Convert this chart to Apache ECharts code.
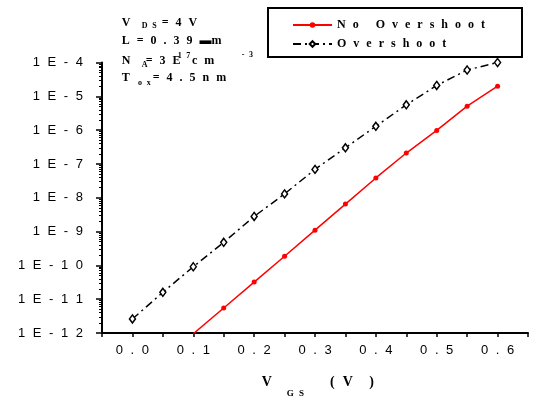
<!DOCTYPE html>
<html>
<head>
<meta charset="UTF-8"/>
<script src="https://cdn.jsdelivr.net/npm/echarts@6/dist/echarts.min.js"></script>
<style type="text/css">
	html, body { margin:0; padding:0; background:#fff; }
	#chart { width:534px; height:398px; }
</style>
</head>
<body>
<div id="chart"></div>
<script type="text/javascript">

// V_GS (V) sample points
var vgsNoOvershoot = [0.1, 0.15, 0.2, 0.25, 0.3, 0.35, 0.4, 0.45, 0.5, 0.55, 0.6];
var idNoOvershoot  = [9.5e-13, 5.5e-12, 3.2e-11, 1.86e-10, 1.1e-9, 6.5e-9, 3.85e-8, 2.1e-7, 9.8e-7, 5.1e-6, 2.0e-5];

var vgsOvershoot = [0.0, 0.05, 0.1, 0.15, 0.2, 0.25, 0.3, 0.35, 0.4, 0.45, 0.5, 0.55, 0.6];
var idOvershoot  = [2.6e-12, 1.6e-11, 9.1e-11, 4.8e-10, 2.8e-9, 1.3e-8, 6.9e-8, 3.0e-7, 1.3e-6, 5.6e-6, 2.1e-5, 6.0e-5, 1.0e-4];

var seriesNames = ['No Overshoot', 'Overshoot'];

// wide letter spacing like the original figure
var GAP = '\u2002\u200A';
function sp(s){
	return s.split('').join(GAP);
}

function pairs(xs, ys){
	var out = [];
	for(var i=0;i<xs.length;i++){
		out.push([xs[i], ys[i]]);
	}
	return out;
}

var serifB = 'bold 12px "Liberation Serif", "Times New Roman", serif';
var serifSmall = 'bold 8px "Liberation Serif", "Times New Roman", serif';
var sansFont = '"Liberation Sans", Arial, sans-serif';

function txt(x, y, s, font){
	return {
		type:'text', x:x, y:y, silent:true,
		style:{ text:s, font:font, fill:'#000', align:'left', verticalAlign:'middle' }
	};
}

var chart = echarts.init(document.getElementById('chart'));

var option = {
	animation:false,
	backgroundColor:'#fff',
	grid:{ left:102, right:6, top:62.5, bottom:65 },
	xAxis:{
		type:'value',
		min:-0.05,
		max:0.65,
		interval:0.05,
		axisLine:{ onZero:false, lineStyle:{ color:'#000', width:2 } },
		axisTick:{ length:4, lineStyle:{ color:'#000', width:1.5 } },
		splitLine:{ show:false },
		axisLabel:{
			margin:11,
			color:'#000',
			fontSize:13,
			fontFamily:sansFont,
			formatter:function(v){
				var k = Math.round(v*100);
				if(k < 0 || k % 10 !== 0) return '';
				return sp((k/100).toFixed(1));
			}
		}
	},
	yAxis:{
		type:'log',
		logBase:10,
		min:1e-12,
		max:1e-4,
		splitNumber:8,
		axisLine:{ show:true, onZero:false, lineStyle:{ color:'#000', width:2 } },
		axisTick:{ show:true, length:6, lineStyle:{ color:'#000', width:1.5 } },
		minorTick:{ show:true, splitNumber:9, length:3, lineStyle:{ color:'#000', width:1 } },
		splitLine:{ show:false },
		axisLabel:{
			margin:19,
			color:'#000',
			fontSize:13,
			fontFamily:sansFont,
			formatter:function(v){
				var e = Math.round(Math.log(v)/Math.LN10);
				return sp('1E-' + Math.abs(e));
			}
		}
	},
	legend:{
		orient:'vertical',
		left:292,
		top:19,
		padding:0,
		itemWidth:39,
		itemHeight:7,
		itemGap:7,
		data:seriesNames,
		formatter:function(name){
			return sp(name);
		},
		textStyle:{ color:'#000', fontSize:12, fontWeight:'bold', fontFamily:'"Liberation Serif", "Times New Roman", serif' }
	},
	graphic:[
		{ type:'rect', silent:true, shape:{ x:268, y:8, width:254, height:49 },
		  style:{ fill:'none', stroke:'#000', lineWidth:2 } },
		txt(121.7, 22.8, 'V', serifB),
		txt(141.7, 25.8, sp('DS'), serifSmall),
		txt(161.7, 22.8, sp('= 4 V').replace(/\s+/g, GAP), serifB),
		txt(121.7, 41.2, sp('L=0.39') + GAP + '\u25ACm', serifB),
		txt(121.7, 60.8, 'N', serifB),
		txt(141.7, 65, 'A', serifSmall),
		txt(145.7, 60.8, sp('=3E'), serifB),
		txt(177.7, 55.7, sp('17'), serifSmall),
		txt(192, 60.8, sp('cm'), serifB),
		txt(241.7, 54.5, sp('-3'), serifSmall),
		txt(121.7, 77.8, 'T', serifB),
		txt(138, 83, sp('ox'), serifSmall),
		txt(152.7, 77.8, sp('=4.5nm'), serifB),
		txt(261.7, 382.8, 'V', 'bold 14px "Liberation Serif", "Times New Roman", serif'),
		txt(286.7, 393.7, sp('GS'), 'bold 9px "Liberation Serif", "Times New Roman", serif'),
		txt(330, 382.8, '(' + GAP + 'V' + GAP + GAP + ')', 'bold 14px "Liberation Serif", "Times New Roman", serif')
	],
	series:[
		{
			name:seriesNames[0],
			type:'line',
			clip:true,
			data:pairs(vgsNoOvershoot, idNoOvershoot),
			symbol:'circle',
			symbolSize:5,
			lineStyle:{ color:'#ff0000', width:1.5 },
			itemStyle:{ color:'#ff0000' }
		},
		{
			name:seriesNames[1],
			type:'line',
			clip:false,
			data:pairs(vgsOvershoot, idOvershoot),
			symbol:'diamond',
			symbolSize:[6,8],
			lineStyle:{ color:'#000', width:1.5, type:[8,4,2,4] },
			itemStyle:{ color:'#fff', borderColor:'#000', borderWidth:1.5 }
		}
	]
};

chart.setOption(option);
</script>
</body>
</html>
